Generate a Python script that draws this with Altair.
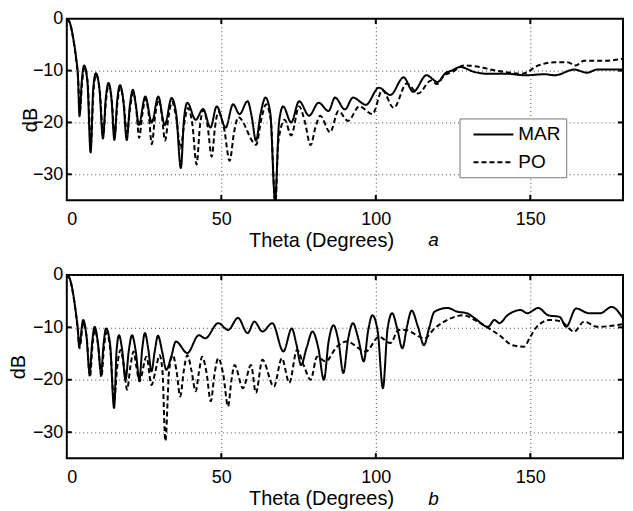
import altair as alt
import pandas as pd

FONT = "Liberation Sans"

# ---------- panel a : peaks and nulls ----------
theta_mar_a = [0, 1, 2, 3, 3.6, 4.1, 5.6, 7.7, 9.4, 11.7, 13.5, 15.4, 17.2, 19.4, 21.4, 23.3, 25.4,
               27.5, 29.6, 31.7, 33.9, 36.9, 39.0, 41.7, 44.1, 46.5, 48.5, 51.4, 53.8, 55.9, 58.5,
               61.2, 64.3, 67.4, 70.0, 72.6, 75.2, 78.4, 81.5, 84.7, 86.8, 90.0, 92.6, 96.8, 101.0,
               104.7, 109.0, 112.1, 116.4, 120.0, 122.5, 124.5, 127.4, 131.6, 135.8, 142.1, 148.4,
               154.7, 157.9, 164.2, 168.4, 171.6, 180]
db_mar_a = [0, -0.8, -3.5, -7.5, -11, -18.8, -9.0, -25.8, -10.5, -23.1, -12.4, -23.4, -12.8, -23.4,
            -13.7, -20.5, -15.0, -20.0, -15.0, -20.5, -15.3, -28.8, -16.2, -19.5, -17.4, -21.0,
            -16.9, -21.0, -16.5, -18.4, -15.9, -23.5, -15.2, -35.0, -16.9, -20.0, -15.9, -18.7,
            -16.2, -17.8, -15.2, -17.5, -15.2, -16.6, -13.3, -14.7, -11.3, -14.1, -10.9, -12.2,
            -10.5, -10.0, -9.3, -10.2, -10.6, -10.6, -10.9, -10.7, -10.9, -9.8, -10.4, -9.8, -9.8]
# lobe flanks (read halfway between null and peak)
flank_theta_mar_a = [4.85, 6.65, 8.55, 10.55, 12.6, 14.45, 16.3, 18.3, 20.4, 22.35, 35.4, 37.95,
                     59.85, 62.75, 65.85, 68.7]
flank_db_mar_a = [-12.0, -12.0, -13.5, -13.5, -15.4, -15.4, -15.8, -15.8, -16.7, -16.7, -18.3,
                  -19.2, -18.9, -18.2, -18.2, -19.9]

theta_po_a = [0, 1, 2, 3, 3.7, 4.2, 5.7, 7.8, 9.5, 11.8, 13.6, 15.5, 17.3, 19.5, 21.5, 23.4, 25.5,
              27.5, 29.7, 31.8, 34.0, 36.8, 39.2, 42.0, 44.2, 46.9, 49.0, 52.7, 55.5, 61.3, 64.5,
              67.5, 68.4, 70.5, 72.6, 75.2, 78.9, 82.0, 85.2, 87.9, 91.0, 94.7, 98.9, 102.1, 105.8,
              110.0, 113.7, 117.9, 119.8, 122.0, 125.0, 128.4, 133.7, 137.9, 142.1, 147.4, 152.6,
              158.0, 162.0, 164.7, 167.4, 173.7, 180]
db_po_a = [0, -0.8, -3.6, -7.8, -12, -18.0, -9.3, -24.0, -10.8, -22.5, -12.7, -22.5, -13.2, -22.0,
           -14.2, -23.0, -15.4, -24.2, -15.6, -23.5, -16.0, -25.0, -17.2, -28.1, -17.6, -26.6,
           -18.0, -27.4, -19.0, -24.3, -16.5, -36.0, -24.0, -19.5, -22.5, -16.9, -24.4, -18.7,
           -21.9, -17.8, -19.7, -16.9, -18.4, -13.8, -17.2, -12.5, -14.4, -11.9, -12.6, -11.0,
           -10.2, -9.0, -9.3, -9.9, -10.3, -10.6, -9.0, -8.4, -8.4, -9.0, -8.1, -8.1, -7.7]
flank_theta_po_a = [4.95, 6.75, 8.65, 10.65, 12.7, 14.55, 16.4, 18.4, 20.5, 22.45, 24.45, 26.5,
                    28.6, 30.75, 32.9, 35.4, 38.0, 40.6, 43.1, 45.55, 47.95, 50.85, 54.1, 62.9,
                    66.0, 77.05, 80.45]
flank_db_po_a = [-12.3, -12.3, -13.8, -13.8, -15.7, -15.7, -16.2, -16.2, -17.2, -17.2, -18.4, -18.4,
                 -18.6, -18.6, -19.0, -19.0, -20.2, -20.2, -20.6, -20.6, -21.0, -21.0, -22.0, -19.5,
                 -19.5, -19.9, -21.0]

# ---------- panel b : peaks and nulls ----------
theta_mar_b = [0, 1, 2, 3, 3.6, 4.0, 5.3, 7.4, 9.0, 11.1, 12.7, 15.3, 16.9, 19.0, 21.1, 23.5, 25.3,
               27.4, 29.5, 32.2, 35.3, 39.0, 42.7, 44.8, 49.0, 52.2, 55.4, 58.5, 60.7, 63.3, 66.5,
               70.1, 72.8, 75.8, 79.5, 83.2, 86.3, 89.5, 92.6, 96.1, 98.9, 102.3, 105.3, 108.6,
               111.6, 115.6, 119.0, 123.2, 126.3, 129.5, 132.1, 136.3, 138.4, 140.0, 142.6, 146.9,
               149.0, 152.6, 155.8, 159.5, 161.6, 164.8, 169.0, 172.7, 176.3, 180]
db_mar_b = [0, -0.8, -3.4, -7.5, -10.5, -13.7, -8.6, -18.7, -9.9, -18.7, -10.2, -25.4, -11.5, -20.0,
            -11.5, -20.0, -11.1, -18.4, -11.6, -18.1, -12.7, -14.9, -11.5, -12.1, -9.2, -10.5,
            -8.2, -11.1, -8.9, -10.8, -9.2, -14.6, -10.2, -17.2, -10.8, -20.0, -9.6, -18.7, -9.2,
            -16.5, -7.7, -21.6, -7.3, -14.0, -6.8, -13.4, -7.0, -6.3, -7.0, -7.3, -8.3, -9.9,
            -8.6, -9.2, -7.7, -6.7, -7.3, -6.3, -7.7, -8.0, -9.9, -6.4, -7.3, -7.3, -6.1, -8.3]
flank_theta_mar_b = [6.35, 8.2, 10.05, 11.9, 14.0, 16.1, 17.95, 20.05, 22.3, 24.4, 26.35, 28.45,
                     30.85, 33.75, 74.3, 77.65, 81.35, 84.75, 87.9, 91.05, 94.35, 97.5, 100.6,
                     103.8, 106.95, 110.1, 113.6, 117.3]
flank_db_mar_b = [-11.6, -12.9, -12.9, -13.2, -13.2, -14.5, -14.5, -14.5, -14.5, -14.1, -14.1,
                  -14.6, -14.6, -15.7, -13.2, -13.8, -13.8, -12.6, -12.6, -12.2, -12.2, -10.7,
                  -10.7, -10.3, -10.3, -9.8, -9.8, -10.0]

theta_po_b = [0, 1, 2, 3, 3.6, 4.1, 5.4, 7.5, 9.1, 11.2, 12.8, 15.3, 17.4, 19.5, 21.6, 23.5, 25.8,
              27.4, 30.0, 31.9, 34.3, 36.7, 39.0, 41.7, 43.8, 46.6, 49.0, 52.2, 54.3, 57.0, 59.6,
              61.2, 63.3, 67.0, 69.6, 72.0, 74.5, 78.9, 81.0, 83.7, 87.4, 90.5, 96.8, 101.0, 104.7,
              107.4, 109.5, 115.8, 119.0, 124.2, 128.4, 132.1, 135.8, 140.0, 144.2, 147.9, 150.0,
              152.1, 156.3, 160.0, 164.2, 167.4, 171.6, 180]
db_po_b = [0, -0.8, -3.5, -7.6, -10.8, -14.0, -9.0, -19.5, -10.5, -19.5, -11.0, -24.0, -14.3, -21.9,
           -14.6, -20.3, -15.6, -21.0, -15.3, -31.7, -15.3, -23.2, -15.3, -22.2, -15.6, -24.1,
           -15.9, -25.1, -17.2, -21.6, -17.2, -22.5, -16.2, -21.3, -15.9, -20.6, -14.3, -20.0,
           -15.6, -16.5, -13.7, -12.7, -14.6, -11.8, -13.0, -10.5, -10.5, -12.1, -10.2, -8.3,
           -7.7, -8.6, -9.9, -11.5, -13.4, -13.7, -11.8, -9.9, -8.6, -8.9, -10.8, -8.9, -9.9, -9.4]
flank_theta_po_b = [6.45, 8.3, 10.15, 12.0, 14.05, 16.35, 18.45, 20.55, 22.55, 28.7, 30.95, 33.1,
                    35.5, 37.85, 40.35, 42.75, 45.2, 47.8, 50.6, 53.25, 76.7]
flank_db_po_b = [-12.0, -13.5, -13.5, -14.0, -14.0, -17.3, -17.3, -17.6, -17.6, -18.3, -18.3,
                 -18.3, -18.3, -18.3, -18.3, -18.6, -18.6, -18.9, -18.9, -20.2, -17.3]

series_names = ["MAR", "PO"]
x_ticks = [0, 50, 100, 150]
y_ticks = [-30, -20, -10, 0]
inner_x_ticks = [50, 100, 150]
inner_y_ticks = [-10, -20, -30]

W = 558


def series(name, t, d, ft, fd):
    df = pd.DataFrame({"theta": list(t) + list(ft), "db": list(d) + list(fd)})
    df["series"] = name
    return df.sort_values("theta")


def panel(df, letter, h, legend_x, legend_y, ytitle_x, ytitle_y, letter_y):
    xs = alt.Scale(domain=[0, 180], nice=False, zero=False)
    ys = alt.Scale(domain=[-35, 0], nice=False, zero=False)
    lines = alt.Chart(df).mark_line(
        color="black", strokeWidth=2, clip=True, interpolate="monotone"
    ).encode(
        x=alt.X("theta:Q", scale=xs, axis=alt.Axis(
            values=x_ticks, title="Theta (Degrees)", titleX=255, titleY=30,
            labelPadding=10, ticks=False, domain=False, grid=True)),
        y=alt.Y("db:Q", scale=ys, axis=alt.Axis(
            values=y_ticks, title="dB", titleX=ytitle_x, titleY=ytitle_y,
            labelPadding=4, ticks=False, domain=False, grid=True)),
        strokeDash=alt.StrokeDash("series:N", scale=alt.Scale(
            domain=series_names, range=[[1, 0], [5, 3]]),
            legend=alt.Legend(title=None, orient="none", legendX=legend_x, legendY=legend_y,
                              symbolType="M-2,0H2", symbolSize=400, symbolStrokeWidth=2,
                              symbolStrokeColor="black", symbolFillColor="transparent",
                              symbolOffset=18, labelOffset=14,
                              labelExpr="datum.label + '\u00a0'",
                              labelFontSize=19, labelFont=FONT, labelColor="black",
                              strokeColor="#777", fillColor="white",
                              padding=5, rowPadding=7)),
        order="series:N",
    )
    xt = pd.DataFrame({"t": inner_x_ticks})
    yt = pd.DataFrame({"t": inner_y_ticks})
    tb = alt.Chart(xt).mark_rule(color="black", strokeWidth=2).encode(
        x="t:Q", y=alt.datum(-35), y2=alt.datum(-34))
    tt = alt.Chart(xt).mark_rule(color="black", strokeWidth=2).encode(
        x="t:Q", y=alt.datum(0), y2=alt.datum(-1))
    tl = alt.Chart(yt).mark_rule(color="black", strokeWidth=2).encode(
        y="t:Q", x=alt.datum(0), x2=alt.datum(1.6))
    tr = alt.Chart(yt).mark_rule(color="black", strokeWidth=2).encode(
        y="t:Q", x=alt.datum(178.4), x2=alt.datum(180))
    lab = alt.Chart(pd.DataFrame({"lab": [letter]})).mark_text(
        fontSize=19, font=FONT, fontStyle="italic", color="black"
    ).encode(text="lab:N", x=alt.value(368), y=alt.value(letter_y))
    return alt.layer(lines, tb, tt, tl, tr, lab).properties(width=W, height=h)


df_a = pd.concat([series("MAR", theta_mar_a, db_mar_a, flank_theta_mar_a, flank_db_mar_a),
                  series("PO", theta_po_a, db_po_a, flank_theta_po_a, flank_db_po_a)],
                 ignore_index=True)
df_b = pd.concat([series("MAR", theta_mar_b, db_mar_b, flank_theta_mar_b, flank_db_mar_b),
                  series("PO", theta_po_b, db_po_b, flank_theta_po_b, flank_db_po_b)],
                 ignore_index=True)

top = panel(df_a, "a", 182, 394, 100, -26, 101, 222)
bottom = panel(df_b, "b", 184, 400, 103, -38, 92, 225)

chart = alt.vconcat(top, bottom, spacing=14).properties(
    padding={"left": 0, "right": 0, "top": 0, "bottom": 0}
).configure_view(
    stroke="black", strokeWidth=2
).configure_axis(
    labelFont=FONT, titleFont=FONT, labelFontSize=18, titleFontSize=20,
    labelColor="black", titleColor="black", titleFontWeight="normal",
    gridColor="#444", gridDash=[1, 3], gridWidth=1, gridOpacity=1
)

chart.save("out.html", embed_options={"renderer": "svg", "actions": False})
